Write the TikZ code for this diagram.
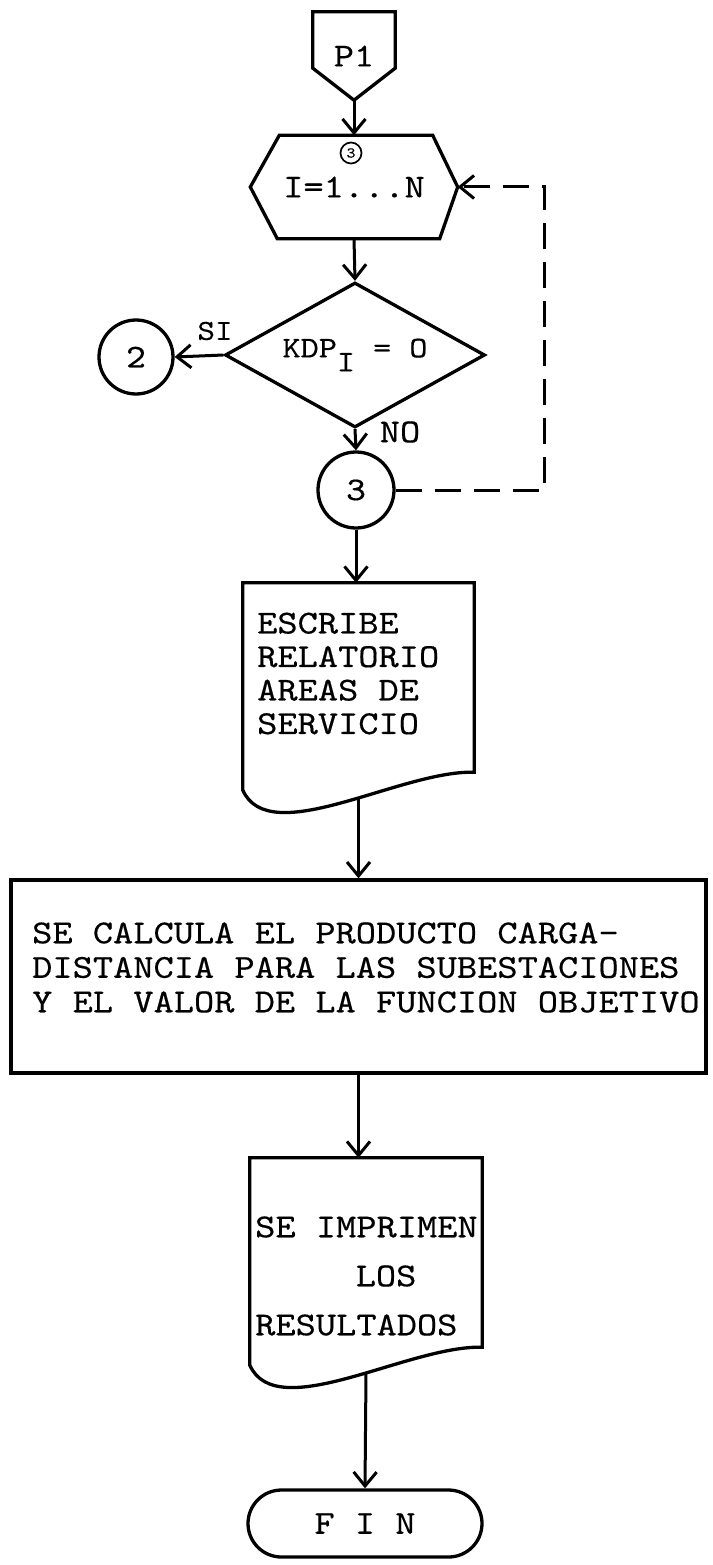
\documentclass[tikz,border=0pt]{standalone}
\usepackage{fontspec}
\setmonofont[FakeStretch=1.15,FakeBold=0.4]{lmmono10-regular.otf}
\usetikzlibrary{arrows.meta,shapes.geometric,shapes.misc,calc}
\providecommand{\tw}[1]{\fontsize{#1}{#1}\selectfont\ttfamily}
% outline of a document symbol drawn round an empty node
\providecommand{\docshape}[1]{%
  \draw[flw] (#1.north west) -- (#1.north east) -- ($(#1.south east)+(0,-26)$)
    .. controls ($(#1.south east)+(-74,-28)$) and ($(#1.south west)+(27,52)$) ..
    ($(#1.south west)+(0,-8)$) -- cycle;}
\tikzset{
  flw/.style  ={line width=3.3pt,line join=miter},
  arr/.style  ={-{Straight Barb[length=14pt,width=23pt]},line width=3pt},
  darr/.style ={arr,dash pattern=on 26pt off 13pt},
  txt/.style  ={inner sep=0pt,align=left,font=\tw{33.5}},
  hole/.style ={inner sep=0pt,draw=none,font=\tw{33.5}},
  conn/.style ={circle,draw,flw,inner sep=0pt,font=\tw{33}},
  dbox/.style ={hole,minimum width=231pt,minimum height=215pt},
  pbox/.style ={draw,flw,inner sep=0pt,minimum width=695pt,minimum height=193pt},
  tbox/.style ={rounded rectangle,draw,flw,inner sep=0pt,minimum width=234pt,
                minimum height=67pt,font=\tw{33.5}},
  dbx/.style  ={diamond,draw,flw,inner sep=0pt,aspect=1.8,minimum width=260pt,
                minimum height=145pt,font=\tw{30}},
}

\begin{document}
\begin{tikzpicture}[x=1pt,y=-1pt]

  \path[fill=white,use as bounding box] (0,0) rectangle (712,1565);

  % ---------- entrada y ciclo ----------
  \node[hole,minimum width=82pt,minimum height=88pt] (p1) at (354,56) {P1};
  \draw[flw] (p1.north west) -- (p1.north east) -- ($(p1.south east)+(0,-32)$)
    -- (p1.south) -- ($(p1.south west)+(0,-32)$) -- cycle;

  \node[hole,minimum width=207pt,minimum height=103pt] (hex) at (354,187) {I=1...N};
  \draw[flw] ($(hex.north west)+(29,0)$) -- ($(hex.north east)+(-25,0)$) -- (hex.east)
    -- ($(hex.south east)+(-18,0)$) -- ($(hex.south west)+(27,0)$) -- (hex.west) -- cycle;
  \node[circle,draw,line width=1.7pt,inner sep=0pt,minimum size=21pt,font=\tw{15}]
    (m3) at (351,153) {3};

  % ---------- decision ----------
  \node[dbx] (dia) at (355,355) {KDP\raisebox{-14pt}{I} = O};
  \node[conn,minimum size=74pt] (c2) at (136,357) {2};
  \node[conn,minimum size=76pt] (c3) at (356,490) {3};
  \node[txt,font=\tw{29}] (si) at (215,331) {SI};
  \node[txt] (no) at (400,432) {NO};

  % ---------- relatorio ----------
  \node[dbox] (doc1) at (358.5,690.5) {};
  \docshape{doc1}
  \node[txt,anchor=west] (doc1t) at (257,673.5) {ESCRIBE\\RELATORIO\\AREAS DE\\SERVICIO};

  % ---------- calculo ----------
  \node[pbox] (proc) at (358.5,976.5) {};
  \node[txt,anchor=west,font=\fontsize{33.5}{34.5}\selectfont\ttfamily] (proct) at (32,967.5)
    {SE CALCULA EL PRODUCTO CARGA-\\DISTANCIA PARA LAS SUBESTACIONES\\Y EL VALOR DE LA FUNCION OBJETIVO};

  % ---------- resultados ----------
  \node[dbox,minimum width=232pt] (doc2) at (366,1265.5) {};
  \docshape{doc2}
  \node[txt,anchor=west,font=\fontsize{33.5}{49}\selectfont\ttfamily] (doc2t) at (255,1276)
    {SE IMPRIMEN\\\hspace*{3em}LOS\\RESULTADOS};

  \node[tbox] (fin) at (365,1523.5) {F I N};

  % ---------- flechas ----------
  \draw[arr] (p1.south) -- (hex.north);
  \draw[arr] (hex.south) -- (dia.north);
  \draw[arr] (dia.west) -- (c2.east);
  \draw[arr] (dia.south) -- (c3.north);
  \draw[darr] (c3.east) -| ($(hex.east)+(87,0)$) -- (hex.east);
  \draw[arr] (c3.south) -- (c3.south |- doc1.north);
  \draw[arr] (doc1.south) -- (doc1.south |- proc.north);
  \draw[arr] (proc.south) -- (proc.south |- doc2.north);
  \draw[arr] (doc2.south) -- (fin.north);

\end{tikzpicture}
\end{document}
